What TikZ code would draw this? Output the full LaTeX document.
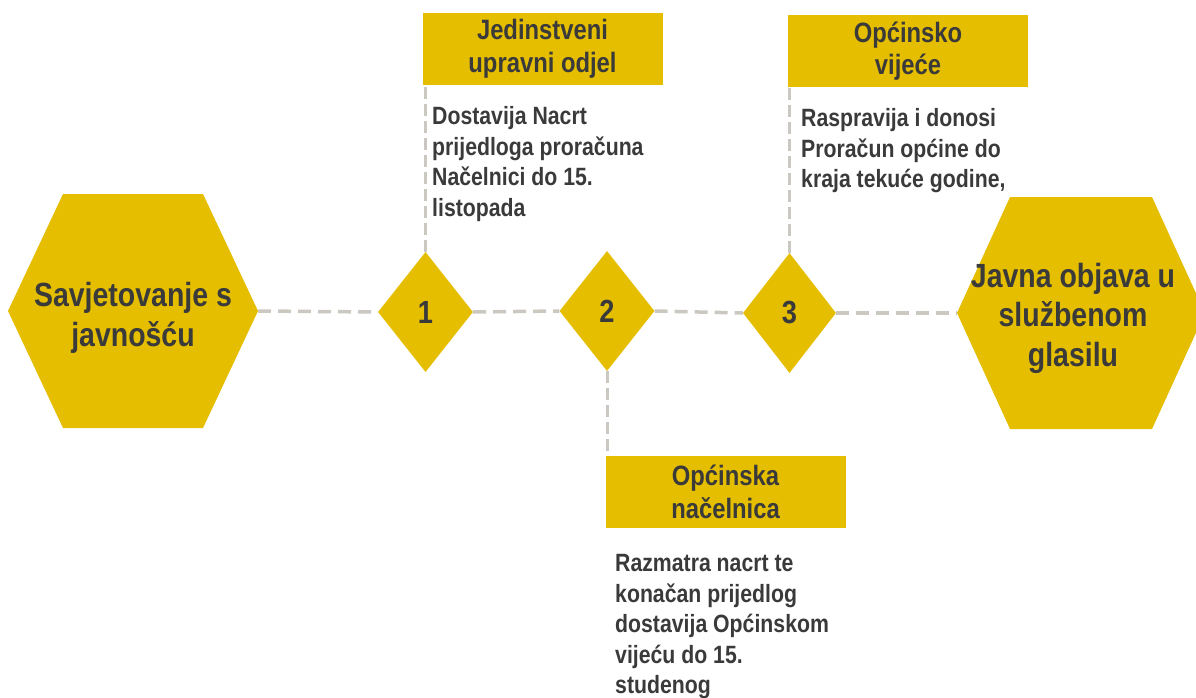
\documentclass[tikz,border=0pt]{standalone}
\usepackage{fontspec}
\setmainfont{Liberation Sans}[FakeStretch=0.85]
\usetikzlibrary{shapes.geometric,calc}
\definecolor{gold}{RGB}{229,190,0}
\definecolor{ink}{RGB}{58,58,58}
\definecolor{dashgray}{RGB}{202,200,192}
\tikzset{
  conn/.style={draw=dashgray, line width=3.5pt, dash pattern=on 13pt off 7pt},
  vconn/.style={draw=dashgray, line width=3pt, dash pattern=on 12pt off 5pt},
  numdiamond/.style={diamond, fill=gold, inner sep=0pt, minimum width=95pt, minimum height=120pt, text=ink, font={\fontsize{32}{36}\selectfont\bfseries}},
  headbox/.style={rectangle, fill=gold, inner sep=0pt, minimum width=240pt, minimum height=72pt, text=ink, align=center, font={\fontsize{28}{32.5}\selectfont\bfseries}},
  bodytext/.style={anchor=north west, inner sep=0pt, text=ink, align=left, font={\fontsize{25}{30.5}\selectfont\bfseries}},
  hextext/.style={inner sep=0pt, text=ink, align=center, font={\fontsize{33.5}{39.5}\selectfont\bfseries}},
}
\begin{document}
\begin{tikzpicture}[x=1pt,y=-1pt]
\useasboundingbox[fill=white] (0,0) rectangle (1196,698);
% hexagon vertices
\coordinate (h1c) at (133,311);
\coordinate (h1w) at ($(h1c)+(-125,0)$);
\coordinate (h1e) at ($(h1c)+(125,0)$);
\coordinate (h2c) at (1081,313);
\coordinate (h2w) at ($(h2c)+(-124,0)$);
\coordinate (h2e) at ($(h2c)+(124,0)$);
\fill[gold] (h1w) -- ($(h1c)+(-70,-117)$) -- ($(h1c)+(70,-117)$) -- (h1e) -- ($(h1c)+(70,117)$) -- ($(h1c)+(-70,117)$) -- cycle;
\fill[gold] (h2w) -- ($(h2c)+(-71,-116)$) -- ($(h2c)+(71,-116)$) -- (h2e) -- ($(h2c)+(71,116)$) -- ($(h2c)+(-71,116)$) -- cycle;
% diamonds
\node[numdiamond] (d1) at (425.5,312) {1};
\node[numdiamond] (d2) at (607,311) {2};
\node[numdiamond, minimum width=93pt] (d3) at (789.5,313) {3};
% header boxes
\node[headbox] (b1) at (542.5,49) {Jedinstveni\\upravni odjel};
\node[headbox] (b2) at (908,51) {Općinsko\\vijeće};
\node[headbox] (b3) at (725.5,492) {Općinska\\načelnica};
% connectors
\path[conn] (h1e) -- (d1.west);
\path[conn] (d1.east) -- (d2.west);
\path[conn] (d2.east) -- (d3.west);
\path[conn] (d3.east) -- (h2w);
\path[vconn] (d1.north) -- (d1.north |- b1.south);
\path[vconn] (d2.south) -- (d2.south |- b3.north);
\path[vconn] (d3.north) -- (d3.north |- b2.south);
% texts
\node[hextext] (t1) at (133,318) {Savjetovanje s\\javnošću};
\node[hextext] (t2) at (1073,318) {Javna objava u\\službenom\\glasilu};
\node[bodytext] (p1) at (432,106.5) {Dostavija Nacrt\\prijedloga proračuna\\Načelnici do 15.\\listopada};
\node[bodytext] (p2) at (801,108.5) {Raspravija i donosi\\Proračun općine do\\kraja tekuće godine,};
\node[bodytext] (p3) at (615,554.5) {Razmatra nacrt te\\konačan prijedlog\\dostavija Općinskom\\vijeću do 15.\\studenog};
\end{tikzpicture}
\end{document}
